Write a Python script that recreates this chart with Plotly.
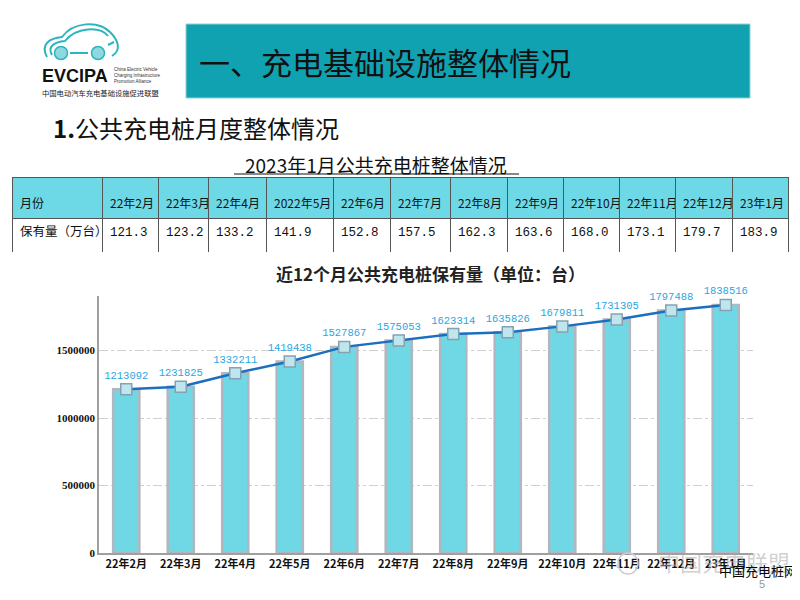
import plotly.graph_objects as go

# ---------------- data ----------------
table_months = ["22年2月", "22年3月", "22年4月", "2022年5月", "22年6月", "22年7月", "22年8月",
                "22年9月", "22年10月", "22年11月", "22年12月", "23年1月"]
table_values = ["121.3", "123.2", "133.2", "141.9", "152.8", "157.5", "162.3",
                "163.6", "168.0", "173.1", "179.7", "183.9"]
chart_months = ["22年2月", "22年3月", "22年4月", "22年5月", "22年6月", "22年7月", "22年8月",
                "22年9月", "22年10月", "22年11月", "22年12月", "23年1月"]
chart_values = [1213092, 1231825, 1332211, 1419438, 1527867, 1575053, 1623314,
                1635826, 1679811, 1731305, 1797488, 1838516]
y_ticks = [0, 500000, 1000000, 1500000]

W, H = 800, 600
OFF = 8  # page body margin
def px(x): return (x - OFF) / W
def py(y): return 1 - (y - OFF) / H

CJK = "Noto Sans CJK SC"
fig = go.Figure()

# ---------------- table ----------------
col_edges = [12, 102, 158, 208, 266, 333, 390, 450, 507, 563, 619, 675, 732, 788]
col_w = [col_edges[i + 1] - col_edges[i] for i in range(len(col_edges) - 1)]
header_text = ["<span style='font-size:6px'>&nbsp;</span><br>" + t for t in ["月份"] + table_months]
fig.add_trace(go.Table(
    domain=dict(x=[px(12), px(788)], y=[py(253), py(177)]),
    columnwidth=col_w,
    header=dict(values=header_text,
                fill_color="#6dd9e6", line_color="#555555", line_width=1,
                align="left", height=41,
                font=dict(family=CJK, size=12, color="#111111")),
    cells=dict(values=[["保有量（万台）"]] + [[v] for v in table_values],
               fill_color="white", line_color="#555555", line_width=1,
               align="left", height=34,
               font=dict(family=[CJK] + ["Liberation Mono"] * 12, size=12.5, color="#111111")),
))

# ---------------- bars + line ----------------
fig.add_trace(go.Bar(
    x=chart_months, y=chart_values, width=0.48,
    marker=dict(color="#6fd8e4", line=dict(color="#b2b6be", width=2.5)),
    showlegend=False, hoverinfo="skip",
))
fig.add_trace(go.Scatter(
    x=chart_months, y=chart_values, mode="lines+markers+text",
    text=[str(v) for v in chart_values], textposition="top center",
    textfont=dict(family="Liberation Mono", size=10.5, color="#29a6e3"),
    line=dict(color="#1a6fc0", width=2.5),
    marker=dict(symbol="square", size=11, color="#bfe6ef", line=dict(color="#86a2b0", width=1.5)),
    cliponaxis=False,
    showlegend=False, hoverinfo="skip",
))

fig.update_layout(
    width=W, height=H, margin=dict(l=0, r=0, t=0, b=0),
    paper_bgcolor="white", plot_bgcolor="white",
    xaxis=dict(domain=[px(99), px(753)], range=[-0.5, 11.5], type="category",
               showline=True, linecolor="#a0a0a0", linewidth=1.5, showgrid=False,
               automargin=False, ticks="",
               tickfont=dict(family=CJK, size=11, color="#111111", weight="bold")),
    yaxis=dict(domain=[py(553), py(296)], range=[0, 1905000],
               tickvals=y_ticks, tickformat="d", automargin=False,
               showline=True, linecolor="#a0a0a0", linewidth=1.5,
               showgrid=True, gridcolor="#d0d0d0", griddash="dashdot", gridwidth=1,
               zeroline=False, ticks="",
               tickfont=dict(family="Liberation Serif", size=11, color="#111111", weight="bold")),
    font=dict(family=CJK),
)

shapes = []
annotations = []

# header band
shapes.append(dict(type="rect", xref="paper", yref="paper",
                   x0=px(186), x1=px(750), y0=py(98), y1=py(24),
                   fillcolor="#11a2b1", line=dict(color="#8fd3da", width=1)))
annotations.append(dict(xref="paper", yref="paper", x=px(197), y=py(62),
                        xanchor="left", yanchor="middle", showarrow=False,
                        text="一、充电基础设施整体情况",
                        font=dict(family=CJK, size=31, color="#111111")))

# logo (car outline)
car_outer = ("M {a},{b} C {c},{d} {e},{f} {g},{h} C {i},{j} {k},{l} {m},{n} C {o},{p} {q},{r} {s},{t}").format(
    a=px(47), b=py(57), c=px(40), d=py(44), e=px(50), f=py(38), g=px(62), h=py(37),
    i=px(73), j=py(22), k=px(98), l=py(20), m=px(110), n=py(32),
    o=px(118), p=py(40), q=px(122), r=py(50), s=px(112), t=py(56))
car_inner = ("M {a},{b} C {c},{d} {e},{f} {g},{h} C {i},{j} {k},{l} {m},{n}").format(
    a=px(52), b=py(55), c=px(47), d=py(46), e=px(55), f=py(42), g=px(65), h=py(41),
    i=px(76), j=py(27), k=px(100), l=py(26), m=px(108), n=py(36))
for p_ in (car_outer, car_inner):
    shapes.append(dict(type="path", xref="paper", yref="paper", path=p_,
                       line=dict(color="#2db5bf", width=2)))
for cx in (61, 98):
    shapes.append(dict(type="circle", xref="paper", yref="paper",
                       x0=px(cx - 6.5), x1=px(cx + 6.5), y0=py(59.5), y1=py(46.5),
                       fillcolor="#8fd8de", line=dict(color="#2db5bf", width=1.5)))
shapes.append(dict(type="line", xref="paper", yref="paper",
                   x0=px(70), x1=px(88), y0=py(53), y1=py(53),
                   line=dict(color="#2db5bf", width=2)))
shapes.append(dict(type="line", xref="paper", yref="paper",
                   x0=px(108), x1=px(114), y0=py(45), y1=py(42),
                   line=dict(color="#2db5bf", width=2)))
annotations.append(dict(xref="paper", yref="paper", x=px(40), y=py(76),
                        xanchor="left", yanchor="middle", showarrow=False,
                        text="<b>EVCIPA</b>",
                        font=dict(family="Liberation Sans", size=18, color="#111111")))
annotations.append(dict(xref="paper", yref="paper", x=px(112), y=py(76),
                        xanchor="left", yanchor="middle", showarrow=False, align="left",
                        text="China Electric Vehicle<br>Charging Infrastructure<br>Promotion Alliance",
                        font=dict(family="Liberation Sans", size=4.5, color="#333333")))
annotations.append(dict(xref="paper", yref="paper", x=px(40), y=py(93),
                        xanchor="left", yanchor="middle", showarrow=False,
                        text="中国电动汽车充电基础设施促进联盟",
                        font=dict(family=CJK, size=7.3, color="#222222")))

# section heading
annotations.append(dict(xref="paper", yref="paper", x=px(51), y=py(128),
                        xanchor="left", yanchor="middle", showarrow=False,
                        text="<b>1.</b>公共充电桩月度整体情况",
                        font=dict(family=CJK, size=24, color="#111111")))
# table title + underline
annotations.append(dict(xref="paper", yref="paper", x=px(376), y=py(164),
                        xanchor="center", yanchor="middle", showarrow=False,
                        text="2023年1月公共充电桩整体情况",
                        font=dict(family=CJK, size=19, color="#111111")))
shapes.append(dict(type="line", xref="paper", yref="paper",
                   x0=px(234), x1=px(519), y0=py(174), y1=py(174),
                   line=dict(color="#111111", width=1.2)))
# chart title
annotations.append(dict(xref="paper", yref="paper", x=px(430), y=py(273),
                        xanchor="center", yanchor="middle", showarrow=False,
                        text="近12个月公共充电桩保有量（单位：台）",
                        font=dict(family=CJK, size=17, color="#222222", weight="bold")))

# watermark
shapes.append(dict(type="circle", xref="paper", yref="paper",
                   x0=px(618), x1=px(638), y0=py(574), y1=py(553),
                   line=dict(color="#cccccc", width=1.5)))
annotations.append(dict(xref="paper", yref="paper", x=px(656), y=py(561),
                        xanchor="left", yanchor="middle", showarrow=False,
                        text="中国充电联盟",
                        font=dict(family=CJK, size=22, color="rgba(170,170,170,0.55)")))
annotations.append(dict(xref="paper", yref="paper", x=px(717), y=py(570),
                        xanchor="left", yanchor="middle", showarrow=False,
                        text="中国充电桩网",
                        font=dict(family=CJK, size=13, color="#000000")))
annotations.append(dict(xref="paper", yref="paper", x=px(762), y=py(584),
                        xanchor="center", yanchor="middle", showarrow=False,
                        text="5",
                        font=dict(family="Liberation Sans", size=11, color="#999999")))

fig.update_layout(shapes=shapes, annotations=annotations)
fig.write_html("out.html")
